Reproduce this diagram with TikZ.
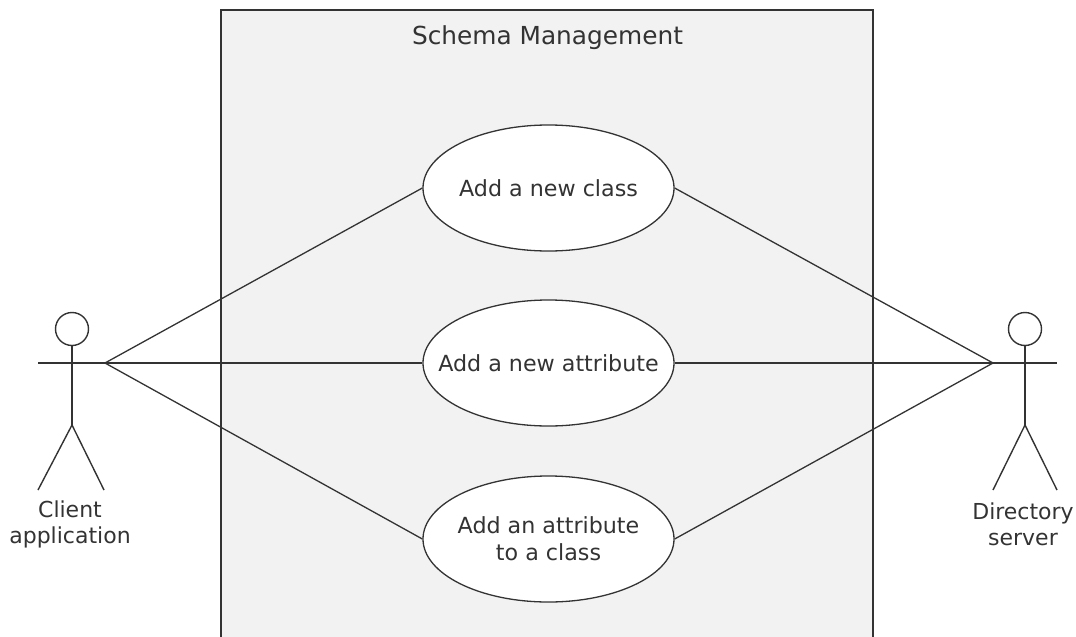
\documentclass[tikz,border=0pt]{standalone}
\usepackage{fontspec}
\setmainfont{DejaVu Sans}
\usetikzlibrary{shapes.geometric}
\definecolor{ink}{HTML}{333333}
\definecolor{boxfill}{HTML}{F2F2F2}
\newcommand{\zw}[1]{\makebox[0pt][c]{#1}}
\tikzset{
  usecase/.style={ellipse, draw=ink, line width=1.3pt, fill=white, minimum width=251pt, minimum height=126pt, inner sep=0pt, align=center, text=ink, font=\fontsize{22.2}{27}\selectfont},
  conn/.style={draw=ink, line width=1.3pt},
  actorline/.style={draw=ink, line width=1.4pt},
  lbl/.style={text=ink, align=center, font=\fontsize{22}{26}\selectfont, inner sep=0pt},
}
\begin{document}
\begin{tikzpicture}[x=1pt, y=-1pt]
\useasboundingbox (0,0) rectangle (1076,637);
\clip (0,0) rectangle (1076,637);
% system boundary
\filldraw[fill=boxfill, draw=ink, line width=1.8pt] (221,700) -- (221,10) -- (873,10) -- (873,700) -- cycle;
\node[lbl, font=\fontsize{24.8}{30}\selectfont] (title) at (547.5,38) {Schema Management};
% use cases
\node[usecase] (e1) at (548.5,188) {\zw{Add a new class}};
\node[usecase] (e2) at (548.5,363) {\zw{Add a new attribute}};
\node[usecase] (e3) at (548.5,539) {\zw{Add an attribute}\\\zw{to a class}};
% left actor
\node[circle, draw=ink, line width=1.4pt, minimum size=33pt, inner sep=0pt] (hL) at (72,329) {};
\coordinate (cA) at (105,363);
\coordinate (armL) at (38,363);
\coordinate (hipL) at (72,425);
\coordinate (footL1) at (38,490);
\coordinate (footL2) at (104,490);
\draw[actorline] (hL.south) -- (hipL);
\draw[actorline] (armL) -- (cA);
\draw[actorline] (footL1) -- (hipL) -- (footL2);
\node[lbl] (labL) at (70,524) {Client\\application};
% right actor
\node[circle, draw=ink, line width=1.4pt, minimum size=33pt, inner sep=0pt] (hR) at (1025,329) {};
\coordinate (cB) at (993,363);
\coordinate (armR) at (1057,363);
\coordinate (hipR) at (1025,425);
\coordinate (footR1) at (993,490);
\coordinate (footR2) at (1057,490);
\draw[actorline] (hR.south) -- (hipR);
\draw[actorline] (cB) -- (armR);
\draw[actorline] (footR1) -- (hipR) -- (footR2);
\node[lbl] (labR) at (1023,524) {Directory\\server};
% connectors
\draw[conn] (cA) -- (e1.west);
\draw[conn] (cA) -- (e2.west);
\draw[conn] (cA) -- (e3.west);
\draw[conn] (e1.east) -- (cB);
\draw[conn] (e2.east) -- (cB);
\draw[conn] (e3.east) -- (cB);
\end{tikzpicture}
\end{document}
